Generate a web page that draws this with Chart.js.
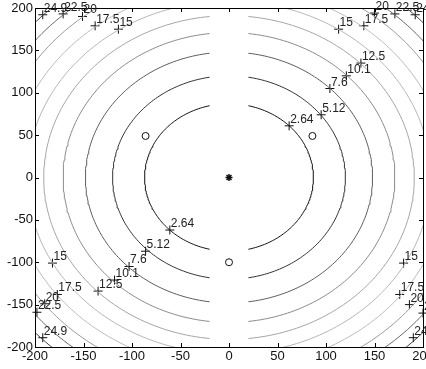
<!DOCTYPE html>
<html>
<head>
<meta charset="utf-8">
<title>Contour</title>
<script src="https://cdn.jsdelivr.net/npm/chart.js@4"></script>
<style>
  body { margin: 0; background: #fff; }
  canvas { display: block; }
</style>
</head>
<body>
<canvas id="chart" width="426" height="369"></canvas>
<script>
'use strict';

// Contour levels and the radius (in data units) each one sits at
const levels = [2.64, 5.12, 7.6, 10.1, 12.5, 15, 17.5, 20, 22.5, 24.9];
const radii = [87, 120, 148, 171, 191, 208, 225, 242, 257, 271];

// Gap in the middle where there is no data
const gapHalfWidth = 20;

// Inline labels (the "+" spots)
const labelX = [62, 95, 104, 121, 136, 113, 139, 150, 171, 192,
  -114, -138, -151, -171, -192,
  -61, -86, -103, -118, -135, -182, -177, -190, -198, -192,
  180, 176, 186, 200, 190];
const labelY = [61, 74, 105, 120, 135, 175, 179, 194, 193, 192,
  175, 179, 190, 193, 192,
  -62, -87, -105, -121, -134, -101, -138, -149, -159, -189,
  -101, -138, -150, -160, -189];
const labelText = ['2.64', '5.12', '7.6', '10.1', '12.5', '15', '17.5', '20', '22.5', '24.9',
  '15', '17.5', '20', '22.5', '24.9',
  '2.64', '5.12', '7.6', '10.1', '12.5', '15', '17.5', '20', '22.5', '24.9',
  '15', '17.5', '20', '22.5', '24.9'];

// Marked points
const circleX = [-86, 86, 0];
const circleY = [49, 49, -100];
const starX = [0];
const starY = [0];

// Tick values
const tickValues = [-200, -150, -100, -50, 0, 50, 100, 150, 200];

// grey shade per level (jet colormap printed in grey)
const lineColors = ['#101010', '#333333', '#5e5e5e', '#8c8c8c', '#a6a6a6',
  '#b8b8b8', '#bdbdbd', '#9c9c9c', '#6c6c6c', '#444444'];

// Build one line per level: right arc, break, left arc
function arcPoints(r) {
  let pts = [];
  let limit = Math.acos(gapHalfWidth / r);
  let steps = 120;
  for (let i = 0; i <= steps; i++) {
    let t = -limit + (2 * limit * i) / steps;
    pts.push({ x: r * Math.cos(t), y: r * Math.sin(t) });
  }
  pts.push({ x: null, y: null });
  for (let i = 0; i <= steps; i++) {
    let t = -limit + (2 * limit * i) / steps;
    pts.push({ x: -r * Math.cos(t), y: r * Math.sin(t) });
  }
  return pts;
}

let datasets = [];
for (let i = 0; i < levels.length; i++) {
  datasets.push({
    label: String(levels[i]),
    data: arcPoints(radii[i]),
    showLine: true,
    spanGaps: false,
    borderColor: lineColors[i],
    borderWidth: 1,
    pointRadius: 0,
    tension: 0
  });
}

datasets.push({
  label: 'labels',
  data: labelX.map((x, i) => ({ x: x, y: labelY[i] })),
  showLine: false,
  pointStyle: 'cross',
  pointRadius: 4.5,
  borderColor: '#111',
  borderWidth: 1,
  clip: false
});

datasets.push({
  label: 'circles',
  data: circleX.map((x, i) => ({ x: x, y: circleY[i] })),
  showLine: false,
  pointStyle: 'circle',
  pointRadius: 3.5,
  backgroundColor: 'rgba(0,0,0,0)',
  borderColor: '#111',
  borderWidth: 1
});

datasets.push({
  label: 'star',
  data: starX.map((x, i) => ({ x: x, y: starY[i] })),
  showLine: false,
  pointStyle: 'star',
  pointRadius: 3.5,
  borderColor: '#111',
  borderWidth: 1.5
});

// frame, inward ticks and label text
const framePlugin = {
  id: 'frame',
  beforeDraw(chart) {
    let ctx = chart.ctx;
    ctx.save();
    ctx.fillStyle = '#fff';
    ctx.fillRect(0, 0, chart.width, chart.height);
    ctx.restore();
  },
  afterDraw(chart) {
    let ctx = chart.ctx;
    let a = chart.chartArea;
    let xs = chart.scales.x;
    let ys = chart.scales.y;
    ctx.save();
    ctx.strokeStyle = '#000';
    ctx.lineWidth = 1;
    ctx.strokeRect(Math.round(a.left) + 0.5, Math.round(a.top) + 0.5,
      Math.round(a.right - a.left), Math.round(a.bottom - a.top));
    ctx.beginPath();
    for (let v of tickValues) {
      let px = Math.round(xs.getPixelForValue(v)) + 0.5;
      ctx.moveTo(px, a.bottom);
      ctx.lineTo(px, a.bottom - 4);
      ctx.moveTo(px, a.top);
      ctx.lineTo(px, a.top + 4);
      let py = Math.round(ys.getPixelForValue(v)) + 0.5;
      ctx.moveTo(a.left, py);
      ctx.lineTo(a.left + 4, py);
      ctx.moveTo(a.right, py);
      ctx.lineTo(a.right - 4, py);
    }
    ctx.stroke();

    ctx.fillStyle = '#222';
    ctx.font = '12px "Liberation Sans", Arial, sans-serif';
    ctx.textAlign = 'left';
    ctx.textBaseline = 'alphabetic';
    for (let i = 0; i < labelText.length; i++) {
      let px = xs.getPixelForValue(labelX[i]);
      let py = ys.getPixelForValue(labelY[i]);
      ctx.fillText(labelText[i], px + 1, py - 3);
    }
    ctx.restore();
  }
};

const tickFont = { family: '"Liberation Sans", Arial, sans-serif', size: 13 };

new Chart(document.getElementById('chart'), {
  type: 'scatter',
  data: { datasets: datasets },
  options: {
    responsive: false,
    animation: false,
    layout: { padding: { top: 8, right: 3, left: 0, bottom: 0 }, autoPadding: false },
    plugins: { legend: { display: false }, tooltip: { enabled: false } },
    scales: {
      x: {
        type: 'linear',
        min: -200,
        max: 200,
        afterFit(scale) {
          scale.height = 22;
          scale.paddingLeft = 0;
          scale.paddingRight = 0;
        },
        afterBuildTicks(scale) { scale.ticks = tickValues.map(v => ({ value: v })); },
        grid: { display: false, drawTicks: false },
        border: { display: false },
        ticks: { font: tickFont, color: '#111', padding: 2, maxRotation: 0, autoSkip: false }
      },
      y: {
        type: 'linear',
        min: -200,
        max: 200,
        afterFit(scale) {
          scale.width = 35;
          scale.paddingTop = 0;
          scale.paddingBottom = 0;
        },
        afterBuildTicks(scale) { scale.ticks = tickValues.map(v => ({ value: v })); },
        grid: { display: false, drawTicks: false },
        border: { display: false },
        ticks: { font: tickFont, color: '#111', padding: 2, autoSkip: false }
      }
    }
  },
  plugins: [framePlugin]
});
</script>
</body>
</html>
